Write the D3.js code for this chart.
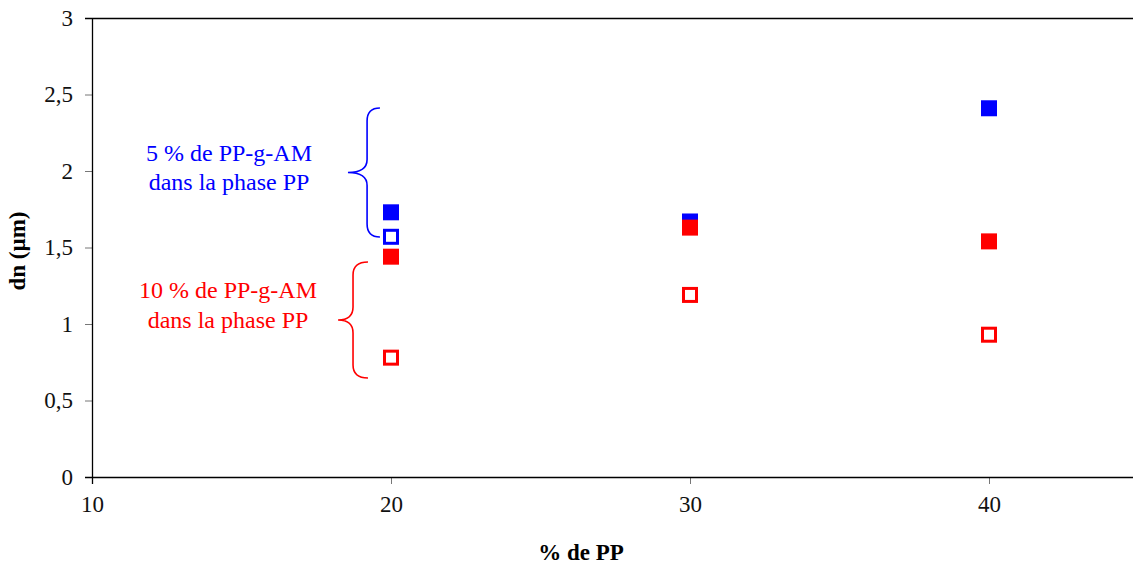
<!DOCTYPE html>
<html>
<head>
<meta charset="utf-8">
<script src="https://cdn.jsdelivr.net/npm/d3@7"></script>
<style>
  html, body { margin: 0; padding: 0; background: #fff; }
  svg { display: block; font-family: "Liberation Serif", "Times New Roman", serif; }
</style>
</head>
<body>
<svg id="chart" width="1133" height="564"></svg>
<script>
// ---- data ----
const xTicks = [10, 20, 30, 40];
const yTicks = [0, 0.5, 1, 1.5, 2, 2.5, 3];
const yTickLabels = ["0", "0,5", "1", "1,5", "2", "2,5", "3"];

const blueFilledX = [20, 30, 40];
const blueFilledY = [1.73, 1.67, 2.41];
const blueOpenX = [20];
const blueOpenY = [1.57];
const redFilledX = [20, 30, 40];
const redFilledY = [1.44, 1.63, 1.54];
const redOpenX = [20, 30, 40];
const redOpenY = [0.78, 1.19, 0.93];

const note5 = ["5 % de PP-g-AM", "dans la phase PP"];
const note10 = ["10 % de PP-g-AM", "dans la phase PP"];
const xTitle = "% de PP";
const yTitle = "dn (µm)";

// ---- layout ----
const svg = d3.select("#chart");
const mLeft = 92, mTop = 18, mBottom = 477;
const x = d3.scaleLinear().domain([10, 45]).range([mLeft, mLeft + 35 * 29.9]);
const y = d3.scaleLinear().domain([0, 3]).range([mBottom, mTop]);

// axes
const gx = svg.append("g").attr("transform", `translate(0,${mBottom})`)
  .call(d3.axisBottom(x).tickValues(xTicks).tickSize(7).tickPadding(12).tickFormat(d3.format("d")));
gx.select(".domain").remove();
gx.selectAll(".tick line").attr("stroke", "#777");
gx.selectAll(".tick text").attr("font-size", 23).attr("fill", "#111").attr("font-family", "Liberation Serif");

const gy = svg.append("g").attr("transform", `translate(${mLeft},0)`)
  .call(d3.axisLeft(y).tickValues(yTicks).tickSize(7).tickPadding(12).tickFormat((d, i) => yTickLabels[i]));
gy.select(".domain").remove();
gy.selectAll(".tick line").attr("stroke", "#777");
gy.selectAll(".tick text").attr("font-size", 23).attr("fill", "#111").attr("font-family", "Liberation Serif");

// frame lines
svg.append("line").attr("x1", mLeft + 0.5).attr("x2", mLeft + 0.5).attr("y1", mTop).attr("y2", mBottom + 7).attr("stroke", "#000").attr("stroke-width", 1.3);
svg.append("line").attr("x1", mLeft - 7).attr("x2", 1133).attr("y1", mBottom + 0.5).attr("y2", mBottom + 0.5).attr("stroke", "#000").attr("stroke-width", 1.3);
svg.append("line").attr("x1", mLeft - 7).attr("x2", 1133).attr("y1", mTop + 0.5).attr("y2", mTop + 0.5).attr("stroke", "#000").attr("stroke-width", 1.3);

// markers
function filled(xs, ys, color) {
  svg.append("g").selectAll("rect").data(xs.map((d, i) => [d, ys[i]])).join("rect")
    .attr("x", d => x(d[0]) - 8).attr("y", d => y(d[1]) - 8)
    .attr("width", 16).attr("height", 16).attr("fill", color);
}
function open(xs, ys, color) {
  svg.append("g").selectAll("rect").data(xs.map((d, i) => [d, ys[i]])).join("rect")
    .attr("x", d => x(d[0]) - 6.5).attr("y", d => y(d[1]) - 6.5)
    .attr("width", 13).attr("height", 13).attr("fill", "#fff")
    .attr("stroke", color).attr("stroke-width", 3);
}
filled(blueFilledX, blueFilledY, "#0000ff");
open(blueOpenX, blueOpenY, "#0000ff");
filled(redFilledX, redFilledY, "#ff0000");
open(redOpenX, redOpenY, "#ff0000");

// braces
function brace(xEnd, xMid, xTip, yTop, yTip, yBot, color) {
  const e = x(xEnd), m = x(xMid), t = x(xTip);
  const a = y(yTop), c = y(yTip), b = y(yBot);
  const r = 13;
  const p = `M${e},${a} Q${m},${a} ${m},${a + r} L${m},${c - r} Q${m},${c} ${t},${c} Q${m},${c} ${m},${c + r} L${m},${b - r} Q${m},${b} ${e},${b}`;
  svg.append("path").attr("d", p).attr("fill", "none").attr("stroke", color).attr("stroke-width", 1.6);
}
brace(19.63, 19.2, 18.56, 2.412, 1.99, 1.569, "#0000ff");
brace(19.23, 18.73, 18.23, 1.405, 1.026, 0.647, "#ff0000");

// notes
function note(lines, cx, y0, color) {
  svg.append("g").selectAll("text").data(lines).join("text")
    .attr("x", cx).attr("y", (d, i) => y0 + i * 29.5)
    .attr("text-anchor", "middle").attr("font-size", 24).attr("fill", color).text(d => d);
}
note(note5, 229, 160.5, "#0000ff");
note(note10, 228, 298, "#ff0000");

// titles
svg.append("text").attr("x", 581).attr("y", 560).attr("text-anchor", "middle")
  .attr("font-size", 23).attr("font-weight", "bold").text(xTitle);
svg.append("text").attr("transform", "translate(25,251) rotate(-90)").attr("text-anchor", "middle")
  .attr("font-size", 23).attr("font-weight", "bold").text(yTitle);
</script>
</body>
</html>
